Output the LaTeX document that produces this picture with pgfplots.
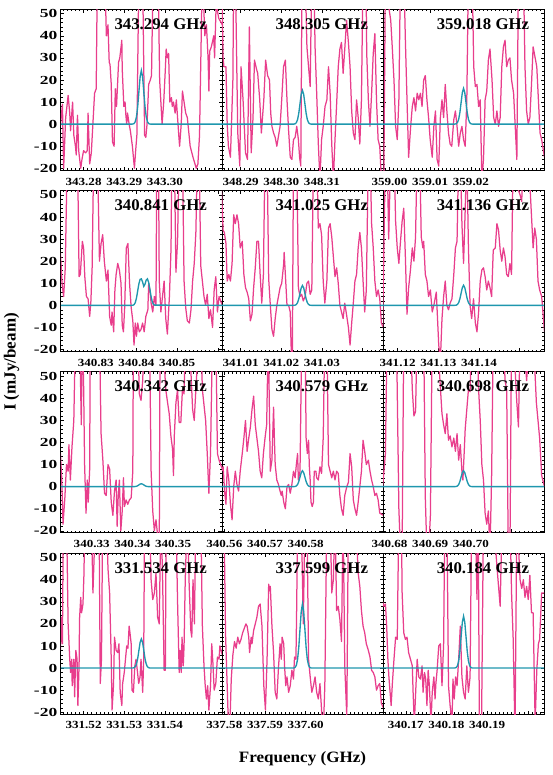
\documentclass[border=0pt]{standalone}
\usepackage{fontspec}
\setmainfont{Liberation Serif}
\usepackage{graphicx}
\usepackage{pgfplots}
\usepackage{pgfplotstable}
\pgfplotsset{compat=1.18}
\definecolor{specPink}{HTML}{E83E8C}
\definecolor{fitTeal}{HTML}{1F97AE}

% x axis of each panel: offset from the line frequency in MHz
\newcommand\xtl[1]{\scalebox{1.2}[1]{#1}}
\newcommand\ptl[1]{\scalebox{1.03}[1]{#1}}

\pgfplotstableread[row sep=\\]{dv I\\
-19.7 -1\\ -19.2 9\\ -18.9 -20\\ -18.4 3\\ -17.8 13\\ -17.4 5\\ -17.2 -3\\ -16.7 10\\ -16.4 -5\\ -16.0 -10\\
-15.8 -14\\ -15.5 4\\ -15.2 -12\\ -14.7 -20\\ -14.4 -16\\ -14.0 -12\\ -13.5 -13\\ -13.1 -12\\ -12.9 5\\ -12.5 -18\\
-12.1 -13\\ -11.3 14\\ -10.9 16\\ -10.6 70\\ -8.8 70\\ -8.4 40\\ -8.0 45\\ -7.7 28\\ -7.5 27\\ -7.2 18\\
-6.9 -8\\ -6.5 -10\\ -6.2 16\\ -5.9 8\\ -5.8 12\\ -5.4 28\\ -5.1 30\\ -4.6 38\\ -4.5 25\\ -4.1 8\\
-3.8 10\\ -3.6 4\\ -3.4 0\\ -3.2 5\\ -2.8 0\\ -2.5 -3\\ -2.0 -10\\ -1.5 -20\\ -1.2 -12\\ -0.9 -5\\
-0.4 70\\ 0.5 70\\ 1.0 -5\\ 1.3 -6\\ 1.6 0\\ 2.0 18\\ 2.4 20\\ 2.7 22\\ 3.1 70\\ 4.3 70\\
4.7 20\\ 5.3 0\\ 5.7 10\\ 6.1 25\\ 6.3 34\\ 6.6 30\\ 6.9 32\\ 7.2 10\\ 7.6 12\\ 7.8 8\\
8.1 10\\ 8.5 5\\ 8.8 11\\ 9.4 -5\\ 9.6 -10\\ 10.0 0\\ 10.3 15\\ 10.7 10\\ 11.1 5\\ 11.5 3\\
12.2 -10\\ 12.9 -15\\ 13.7 -20\\ 14.1 -18\\ 14.5 -5\\ 15.2 70\\ 15.8 40\\ 16.2 45\\ 16.6 30\\ 16.8 15\\
17.0 33\\ 17.4 35\\ 18.0 40\\ 18.2 30\\ 18.6 55\\ 19.2 48\\ 20.1 45\\}\spA

\pgfplotstableread[row sep=\\]{dv I\\
-19.7 70\\ -19.3 30\\ -19.1 26\\ -18.6 26\\ -18.3 0\\ -18.0 -10\\ -17.5 -15\\ -16.9 20\\ -16.7 70\\ -16.3 70\\
-15.7 -4\\ -15.2 -19\\ -14.9 26\\ -14.4 11\\ -13.8 -13\\ -13.3 -16\\ -12.85 44\\ -12.4 -13\\ -11.95 3\\ -11.6 29\\
-11.1 25\\ -10.8 23\\ -10.3 11\\ -9.9 -4\\ -9.3 11\\ -8.85 29\\ -8.36 22\\ -7.9 20\\ -7.6 5\\ -7.3 -1\\
-6.9 -4\\ -6.5 -6\\ -6.1 -10\\ -5.3 -1\\ -4.9 11\\ -4.45 26\\ -4.0 29\\ -3.6 11\\ -3.2 -3\\ -2.8 -15\\
-2.4 -16\\ -2.0 -7\\ -1.6 -6\\ -1.2 -1\\ -0.8 -7\\ -0.5 -15\\ -0.2 -19\\ 0.1 70\\ 0.85 70\\ 1.3 35\\
1.7 26\\ 2.1 17\\ 2.5 70\\ 3.0 70\\ 3.3 35\\ 3.7 14\\ 4.1 -9\\ 4.5 -25\\ 4.9 -7\\ 5.3 -1\\
5.75 8\\ 6.2 11\\ 6.6 26\\ 7.0 14\\ 7.4 -9\\ 7.8 -25\\ 8.2 -7\\ 8.6 9\\ 9.0 26\\ 9.4 34\\
9.8 37\\ 10.2 23\\ 10.6 34\\ 11.05 47\\ 11.5 37\\ 11.9 26\\ 12.3 6\\ 12.7 -4\\ 13.1 -7\\ 13.5 11\\
13.9 3\\ 14.3 -9\\ 14.7 11\\ 15.1 70\\ 15.8 70\\ 16.0 32\\ 16.4 11\\ 16.8 -1\\ 17.2 14\\ 17.6 32\\
18.0 41\\ 18.4 11\\ 18.8 -7\\ 19.2 -10\\ 19.6 -25\\ 20.1 -25\\}\spB

\pgfplotstableread[row sep=\\]{dv I\\
-19.7 -25\\ -19.4 -25\\ -19.0 70\\ -18.6 70\\ -18.1 52\\ -17.7 47\\ -17.3 34\\ -16.9 20\\ -16.5 -1\\ -16.1 -7\\
-15.7 11\\ -15.3 70\\ -14.5 70\\ -14.1 38\\ -13.7 11\\ -13.3 -15\\ -12.8 -1\\ -12.4 8\\ -12.0 12\\ -11.6 6\\
-11.2 14\\ -10.8 11\\ -10.4 14\\ -10.0 8\\ -9.6 20\\ -9.2 22\\ -8.8 11\\ -8.4 3\\ -8.0 -7\\ -7.5 -15\\
-7.1 -1\\ -6.7 6\\ -6.3 -16\\ -5.9 -19\\ -5.5 3\\ -5.1 11\\ -4.7 3\\ -4.3 18\\ -3.9 6\\ -3.5 -4\\
-3.1 -9\\ -2.7 -10\\ -2.2 2\\ -1.8 6\\ -1.4 -1\\ -1.0 -10\\ -0.6 -4\\ -0.2 -1\\ 0.2 -7\\ 0.6 -10\\
1.0 11\\ 1.4 70\\ 2.3 70\\ 2.7 26\\ 3.1 17\\ 3.5 18\\ 3.9 8\\ 4.3 11\\ 4.7 -25\\ 5.1 -16\\
5.5 11\\ 5.9 15\\ 6.3 29\\ 6.7 34\\ 7.2 20\\ 7.6 3\\ 8.0 0\\ 8.4 6\\ 8.8 -1\\ 9.2 3\\
9.6 26\\ 10.0 35\\ 10.4 38\\ 10.8 26\\ 11.2 29\\ 11.6 30\\ 12.0 20\\ 12.5 14\\ 12.9 -1\\ 13.3 -16\\
13.7 70\\ 14.9 70\\ 15.3 26\\ 15.7 6\\ 16.1 0\\ 16.5 3\\ 16.9 18\\ 17.3 35\\ 17.8 30\\ 18.2 26\\
18.6 11\\ 19.0 -4\\ 19.4 -7\\ 20.1 -15\\}\spC

\pgfplotstableread[row sep=\\]{dv I\\
-19.7 24\\ -19.3 10\\ -18.9 4\\ -18.5 17\\ -18.0 70\\ -15.5 70\\ -15.1 13\\ -14.8 14\\ -14.3 29\\ -14.0 26\\
-13.7 13\\ -13.3 4\\ -12.9 3\\ -12.5 -5\\ -12.2 2\\ -11.9 17\\ -11.5 70\\ -10.6 70\\ -10.1 20\\ -9.7 28\\
-9.3 32\\ -8.9 20\\ -8.4 11\\ -8.0 16\\ -7.6 -5\\ -7.2 -9\\ -7.0 -3\\ -6.6 -12\\ -6.3 7\\ -6.0 14\\
-5.6 19\\ -5.2 16\\ -4.8 10\\ -4.5 -9\\ -4.2 -12\\ -3.9 -1\\ -3.5 26\\ -3.1 28\\ -2.7 10\\ -2.3 -1\\
-1.9 -7\\ -1.6 -18\\ -1.3 -8\\ -1.0 -14\\ -0.7 -8\\ -0.3 -12\\ 0.1 -11\\ 0.5 -8\\ 0.9 -12\\ 1.3 -5\\
1.8 -2\\ 2.0 10\\ 2.3 7\\ 2.6 1\\ 3.0 -3\\ 3.4 4\\ 3.8 0\\ 4.0 70\\ 4.4 70\\ 4.6 11\\
5.0 -3\\ 5.4 4\\ 5.8 11\\ 6.2 -6\\ 6.6 -13\\ 7.1 4\\ 7.5 26\\ 7.7 70\\ 8.3 70\\ 8.7 15\\
9.1 29\\ 9.5 70\\ 10.3 70\\ 10.7 11\\ 11.1 -1\\ 11.5 -7\\ 12.0 -8\\ 12.4 -2\\ 12.8 11\\ 13.2 19\\
13.6 33\\ 14.0 70\\ 14.4 70\\ 14.8 18\\ 15.2 11\\ 15.6 4\\ 16.0 0\\ 16.4 5\\ 16.8 -6\\ 17.2 -2\\
17.7 -10\\ 18.1 7\\ 18.5 13\\ 18.9 -3\\ 19.3 4\\ 20.1 0\\}\spD

\pgfplotstableread[row sep=\\]{dv I\\
-19.7 52\\ -19.3 34\\ -19.0 33\\ -18.6 28\\ -18.3 11\\ -17.9 14\\ -17.5 11\\ -17.1 19\\ -16.7 41\\ -16.3 37\\
-15.9 41\\ -15.5 37\\ -15.1 26\\ -14.6 29\\ -14.2 14\\ -13.8 8\\ -13.4 6\\ -13.0 3\\ -12.6 -7\\ -12.2 -4\\
-11.8 8\\ -11.4 17\\ -11.0 29\\ -10.6 29\\ -10.2 14\\ -9.8 1\\ -9.4 14\\ -9.0 70\\ -8.5 70\\ -8.1 12\\
-7.7 0\\ -7.3 -11\\ -6.9 -14\\ -6.5 -6\\ -6.1 0\\ -5.7 4\\ -5.3 8\\ -4.9 10\\ -4.4 19\\ -4.3 24\\
-4.0 14\\ -3.6 0\\ -3.2 0\\ -2.8 -3\\ -2.6 -18\\ -2.3 -30\\ -2.0 70\\ -1.2 70\\ -0.8 8\\ -0.4 4\\
0.0 5\\ 0.4 2\\ 0.85 4\\ 1.3 10\\ 1.7 11\\ 2.1 5\\ 2.5 7\\ 2.9 70\\ 3.7 70\\ 4.1 35\\
4.5 37\\ 4.9 32\\ 5.3 11\\ 5.7 1\\ 6.2 11\\ 6.6 35\\ 7.0 37\\ 7.4 31\\ 7.8 22\\ 8.2 13\\
8.6 17\\ 9.0 10\\ 9.4 0\\ 9.8 -3\\ 10.2 -6\\ 10.6 1\\ 11.1 -5\\ 11.5 -10\\ 11.9 -18\\ 12.3 -8\\
12.7 1\\ 13.1 11\\ 13.5 14\\ 13.9 26\\ 14.3 33\\ 14.7 26\\ 15.1 11\\ 15.5 -3\\ 15.9 7\\ 16.4 70\\
16.8 70\\ 17.2 37\\ 17.6 26\\ 18.0 11\\ 18.4 4\\ 18.8 7\\ 19.2 3\\ 19.6 -8\\ 20.1 -10\\}\spE

\pgfplotstableread[row sep=\\]{dv I\\
-19.7 -10\\ -19.0 70\\ -18.6 70\\ -18.2 30\\ -17.7 70\\ -16.9 70\\ -16.5 38\\ -16.1 26\\ -15.7 19\\ -15.3 29\\
-14.9 38\\ -14.5 44\\ -14.1 22\\ -13.7 -4\\ -13.3 8\\ -12.85 16\\ -12.4 26\\ -12.0 20\\ -11.6 31\\ -11.2 70\\
-10.6 70\\ -10.2 31\\ -9.8 26\\ -9.6 29\\ -9.2 14\\ -8.8 11\\ -8.4 4\\ -7.95 7\\ -7.5 -3\\ -7.1 0\\
-6.7 4\\ -6.5 6\\ -5.9 -18\\ -5.5 -25\\ -5.1 -6\\ -4.7 4\\ -4.3 11\\ -3.9 0\\ -3.5 -2\\ -3.1 1\\
-2.65 3\\ -2.2 14\\ -1.8 26\\ -1.4 29\\ -1.0 70\\ -0.6 70\\ -0.2 37\\ 0.2 19\\ 0.6 43\\ 1.0 70\\
1.4 26\\ 1.8 0\\ 2.2 -6\\ 2.65 3\\ 3.1 -8\\ 3.5 -12\\ 3.9 -3\\ 4.3 11\\ 4.7 16\\ 5.1 17\\
5.5 13\\ 5.9 7\\ 6.3 11\\ 6.7 8\\ 7.1 4\\ 7.5 25\\ 8.0 26\\ 8.4 37\\ 8.8 34\\ 9.2 25\\
9.6 20\\ 10.0 26\\ 10.4 22\\ 10.8 14\\ 11.2 13\\ 11.6 19\\ 12.0 14\\ 12.4 70\\ 13.3 70\\ 13.7 52\\
14.1 50\\ 14.5 47\\ 14.9 70\\ 15.7 70\\ 16.5 55\\ 17.3 26\\ 17.7 35\\ 18.1 30\\ 18.5 11\\ 18.9 7\\
19.4 4\\ 20.1 -12\\}\spF

\pgfplotstableread[row sep=\\]{dv I\\
-19.7 15\\ -19.4 5\\ -19.05 -17\\ -18.6 -5\\ -18.2 10\\ -17.8 7\\ -17.6 19\\ -17.25 3\\ -16.85 18\\ -16.4 30\\
-16.0 70\\ -14.97 70\\ -14.56 28\\ -14.3 70\\ -14.0 47\\ -13.75 10\\ -13.4 -12\\ -13.1 3\\ -12.85 -7\\ -12.5 8\\
-12.36 70\\ -10.1 70\\ -9.7 24\\ -9.26 12\\ -8.85 -3\\ -8.44 -4\\ -8.0 10\\ -7.6 8\\ -7.2 -7\\ -6.8 -13\\
-6.4 -2\\ -6.0 3\\ -5.75 -18\\ -5.5 -5\\ -5.2 3\\ -4.85 -20\\ -4.5 -11\\ -4.2 4\\ -3.96 -9\\ -3.55 -6\\
-3.14 -8\\ -2.73 -6\\ -2.3 -5\\ -1.9 7\\ -1.75 70\\ -0.7 70\\ -0.29 42\\ 0.12 39\\ 0.53 48\\ 0.94 70\\
2.2 70\\ 2.6 7\\ 3.0 -11\\ 3.4 -20\\ 3.8 -15\\ 4.2 -22\\ 4.6 -30\\ 4.8 70\\ 5.4 70\\ 6.2 44\\
6.65 38\\ 7.05 33\\ 7.46 23\\ 7.87 17\\ 8.1 5\\ 8.3 23\\ 8.7 38\\ 9.1 44\\ 9.5 29\\ 9.9 29\\
10.3 44\\ 10.7 42\\ 11.1 70\\ 11.95 70\\ 12.8 35\\ 13.2 30\\ 13.6 44\\ 14.4 70\\ 14.8 70\\ 15.2 44\\
16.0 30\\ 16.4 15\\ 16.8 -3\\ 17.2 15\\ 17.7 70\\ 18.5 70\\ 18.9 15\\ 19.3 12\\ 20.1 8\\}\spG

\pgfplotstableread[row sep=\\]{dv I\\
-19.7 7\\ -19.3 9\\ -18.9 -3\\ -18.6 -8\\ -18.3 9\\ -17.9 3\\ -17.5 -8\\ -17.1 -15\\ -16.7 0\\ -16.3 7\\
-15.9 1\\ -15.5 -2\\ -15.1 7\\ -14.6 15\\ -14.2 22\\ -13.8 30\\ -13.4 16\\ -13.0 22\\ -12.6 27\\ -12.2 35\\
-11.8 41\\ -11.4 28\\ -11.0 22\\ -10.6 16\\ -10.2 7\\ -9.8 4\\ -9.4 15\\ -9.0 22\\ -8.6 28\\ -8.2 70\\
-7.7 7\\ -7.3 12\\ -6.9 36\\ -6.7 22\\ -6.5 10\\ -6.1 3\\ -5.7 1\\ -5.3 -2\\ -5.0 -4\\ -4.8 -2\\
-4.4 -7\\ -4.0 -10\\ -3.6 0\\ -3.2 1\\ -2.8 -3\\ -2.4 1\\ -2.0 7\\ -1.6 4\\ -1.3 10\\ -1.0 15\\
-0.8 3\\ -0.4 7\\ 0.04 70\\ 0.85 70\\ 1.1 22\\ 1.4 15\\ 1.7 21\\ 1.9 9\\ 2.1 3\\ 2.3 -7\\
2.6 -9\\ 2.9 -7\\ 3.1 7\\ 3.5 7\\ 3.7 4\\ 4.1 3\\ 4.5 9\\ 4.9 6\\ 5.3 22\\ 5.7 70\\
6.2 70\\ 6.6 10\\ 7.0 7\\ 7.4 4\\ 7.8 7\\ 8.2 3\\ 8.6 7\\ 9.0 6\\ 9.4 -4\\ 9.8 -10\\
10.2 -13\\ 10.6 -4\\ 11.1 0\\ 11.5 2\\ 11.9 15\\ 12.3 9\\ 12.7 -6\\ 13.1 -10\\ 13.5 -13\\ 13.9 -7\\
14.3 0\\ 14.7 7\\ 15.1 21\\ 15.5 16\\ 15.9 10\\ 16.4 12\\ 16.8 7\\ 17.2 3\\ 17.6 0\\ 18.0 -4\\
18.4 -3\\ 18.8 -6\\ 19.2 -12\\ 20.1 -13\\}\spH

\pgfplotstableread[row sep=\\]{dv I\\
-19.7 0\\ -19.0 15\\ -18.6 70\\ -18.2 70\\ -17.7 70\\ -17.3 55\\ -16.9 70\\ -16.3 70\\ -15.7 -10\\ -15.3 -30\\
-14.9 -30\\ -14.5 70\\ -12.85 70\\ -12.4 44\\ -12.0 32\\ -11.6 34\\ -11.2 70\\ -9.6 70\\ -9.2 -5\\ -8.8 -30\\
-8.4 -30\\ -7.95 -13\\ -7.5 70\\ -6.3 70\\ -5.5 45\\ -5.1 33\\ -4.7 28\\ -4.3 24\\ -3.9 33\\ -3.5 21\\
-3.1 23\\ -2.65 18\\ -2.2 22\\ -1.8 16\\ -1.4 24\\ -1.0 12\\ -0.6 19\\ -0.2 7\\ 0.04 3\\ 0.37 16\\
0.6 26\\ 1.0 35\\ 1.4 44\\ 1.8 43\\ 2.2 70\\ 3.5 70\\ 3.9 44\\ 4.3 30\\ 4.7 10\\ 5.1 3\\
5.5 -12\\ 5.9 -17\\ 6.3 -11\\ 6.7 -30\\ 7.1 5\\ 7.5 70\\ 10.0 70\\ 10.4 48\\ 10.8 44\\ 11.2 -30\\
11.6 -30\\ 12.0 70\\ 12.4 70\\ 13.3 38\\ 13.7 27\\ 14.1 70\\ 14.9 70\\ 15.7 48\\ 16.5 70\\ 17.3 70\\
18.1 38\\ 18.9 22\\ 19.4 5\\ 20.1 0\\}\spI

\pgfplotstableread[row sep=\\]{dv I\\
-19.7 8\\ -19.4 23\\ -19.2 11\\ -18.97 70\\ -18.2 70\\ -17.8 20\\ -17.4 4\\ -17.2 -2\\ -16.9 4\\ -16.8 -8\\
-16.4 4\\ -16.2 -13\\ -15.9 8\\ -15.6 4\\ -15.4 -17\\ -15.1 2\\ -15.0 22\\ -14.7 32\\ -14.5 25\\ -14.15 29\\
-13.9 43\\ -13.7 70\\ -12.1 70\\ -11.7 34\\ -11.05 70\\ -10.2 70\\ -9.9 -7\\ -9.6 4\\ -9.3 70\\ -8.4 70\\
-8.0 45\\ -7.6 34\\ -7.2 4\\ -7.0 -19\\ -6.65 -8\\ -6.4 14\\ -6.0 8\\ -5.6 7\\ -5.3 11\\ -5.0 -11\\
-4.6 -17\\ -4.4 -7\\ -4.0 -2\\ -3.7 4\\ -3.4 10\\ -3.1 9\\ -2.8 19\\ -2.6 16\\ -2.3 11\\ -2.1 -10\\
-1.75 -11\\ -1.4 1\\ -1.1 4\\ -0.8 -1\\ -0.45 -7\\ -0.12 -4\\ 0.12 4\\ 0.37 -5\\ 0.53 -11\\ 0.78 4\\
1.0 70\\ 2.2 70\\ 2.6 40\\ 3.0 31\\ 3.4 34\\ 3.8 43\\ 4.2 23\\ 4.6 20\\ 5.0 70\\ 5.4 43\\
5.8 -1\\ 6.1 -1\\ 6.3 70\\ 8.7 70\\ 9.1 30\\ 9.5 -2\\ 9.75 8\\ 10.0 -2\\ 10.2 14\\ 10.5 1\\
10.7 10\\ 11.0 41\\ 11.5 70\\ 11.95 38\\ 12.36 17\\ 12.6 14\\ 12.9 40\\ 13.25 20\\ 13.6 70\\ 14.8 70\\
15.2 19\\ 15.6 1\\ 15.9 -8\\ 16.2 -14\\ 16.5 -8\\ 16.8 -19\\ 17.2 -8\\ 17.5 11\\ 17.8 2\\ 18.1 -10\\
18.5 -7\\ 18.9 5\\ 19.3 4\\ 19.5 10\\ 20.1 6\\}\spJ

\pgfplotstableread[row sep=\\]{dv I\\
-19.7 52\\ -19.1 70\\ -18.7 15\\ -18.3 -8\\ -18.1 -20\\ -17.7 -30\\ -17.3 -5\\ -16.9 6\\ -16.5 12\\ -16.1 9\\
-15.7 14\\ -15.3 11\\ -14.9 13\\ -14.5 16\\ -14.1 18\\ -13.7 20\\ -13.4 19\\ -13.0 14\\ -12.8 7\\ -12.4 14\\
-12.2 11\\ -11.8 17\\ -11.4 20\\ -11.0 23\\ -10.6 28\\ -10.2 29\\ -9.75 19\\ -9.3 -8\\ -8.9 -19\\ -8.5 4\\
-8.1 38\\ -7.9 35\\ -7.7 37\\ -7.3 19\\ -6.9 7\\ -6.5 -11\\ -6.1 -14\\ -5.7 0\\ -5.3 11\\ -5.0 4\\
-4.8 14\\ -4.4 11\\ -4.2 1\\ -3.9 -8\\ -3.6 -4\\ -3.2 -11\\ -2.8 -8\\ -2.4 -1\\ -2.0 -5\\ -1.75 5\\
-1.4 4\\ -1.2 30\\ -1.0 70\\ -0.1 70\\ 0.4 20\\ 0.85 70\\ 1.3 70\\ 1.7 4\\ 2.1 -4\\ 2.5 -11\\
2.9 -8\\ 3.3 -4\\ 3.7 -11\\ 4.1 -14\\ 4.5 -7\\ 4.9 -19\\ 5.3 -30\\ 5.7 -8\\ 6.2 70\\ 7.0 70\\
7.4 34\\ 7.8 40\\ 8.2 70\\ 8.6 26\\ 9.0 28\\ 9.4 22\\ 9.8 12\\ 10.2 70\\ 10.6 1\\ 11.1 -22\\
11.5 70\\ 12.3 70\\ 13.5 60\\ 13.9 43\\ 14.3 37\\ 14.7 26\\ 15.1 19\\ 15.5 16\\ 15.9 11\\ 16.4 8\\
16.8 5\\ 17.2 -1\\ 17.6 -2\\ 18.0 -4\\ 18.4 -10\\ 18.8 -8\\ 19.2 -7\\ 19.6 -16\\ 20.1 -18\\}\spK

\pgfplotstableread[row sep=\\]{dv I\\
-19.7 30\\ -19.4 28\\ -19.0 29\\ -18.7 19\\ -18.4 4\\ -18.15 -4\\ -17.9 -10\\ -17.6 -17\\ -17.3 -7\\ -16.9 4\\
-16.5 14\\ -16.1 13\\ -15.7 70\\ -15.1 70\\ -14.9 34\\ -14.5 16\\ -14.1 13\\ -13.7 14\\ -13.3 7\\ -12.85 4\\
-12.4 1\\ -12.2 -11\\ -11.9 -25\\ -11.5 -8\\ -11.2 4\\ -10.8 -4\\ -10.4 -5\\ -10.0 1\\ -9.75 -11\\ -9.4 -2\\
-9.1 -5\\ -8.8 -17\\ -8.5 -1\\ -8.2 -8\\ -7.8 -25\\ -7.5 -11\\ -7.1 -4\\ -6.8 -14\\ -6.6 -7\\ -6.3 -1\\
-5.9 10\\ -5.5 11\\ -5.1 -8\\ -4.7 11\\ -4.4 70\\ -3.9 70\\ -3.5 -8\\ -3.1 -17\\ -2.65 -25\\ -2.4 -5\\
-2.1 -14\\ -1.75 -4\\ -1.4 -8\\ -1.0 4\\ -0.6 19\\ -0.2 -4\\ 0.2 -11\\ 0.6 -14\\ 1.0 1\\ 1.4 -11\\
1.8 -4\\ 2.2 70\\ 3.1 70\\ 3.5 31\\ 3.8 70\\ 4.1 -30\\ 4.6 -30\\ 5.1 70\\ 7.5 70\\ 8.4 46\\
9.2 28\\ 9.7 70\\ 11.6 70\\ 12.0 34\\ 12.4 13\\ 12.85 -30\\ 13.3 70\\ 14.1 40\\ 14.5 36\\ 14.9 40\\
15.3 32\\ 15.7 37\\ 16.1 31\\ 16.5 42\\ 16.9 25\\ 17.3 25\\ 17.8 -25\\ 18.2 -1\\ 18.6 11\\ 18.9 13\\
19.4 34\\ 20.1 34\\}\spL

% fitted line profiles, one column per panel
\pgfplotstableread{
dv     a     b     c     d     e    f    g    h    i    j     k     l
-19.7  0     0     0     0     0    0    0    0    0    0     0     0
-2.5   0     0     0     0     0    0    0    0    0    0     0     0
-2.2   0     0     0     0     0    0    0    0    0    0     0     0
-1.9   0.05  0.03  0.04  0.05  0.02 0.02 0    0.02 0.02 0.03  0.06  0.05
-1.6   0.27  0.17  0.18  0.3   0.10 0.10 0.01 0.08 0.08 0.15  0.32  0.26
-1.3   1.07  0.67  0.71  1.2   0.40 0.40 0.06 0.32 0.32 0.58  1.27  1.03
-1.0   3.29  2.07  2.19  3.3   1.22 1.23 0.18 0.97 0.97 1.79  3.92  3.18
-0.7   7.89  4.97  5.26  6.6   2.92 2.95 0.42 2.34 2.34 4.29  9.42  7.63
-0.4   14.74 9.28  9.83  9.8   5.46 5.52 0.79 4.37 4.37 8.01  17.59 14.25
-0.1   21.44 13.50 14.30 11.8  7.94 8.03 1.15 6.35 6.35 11.65 25.59 20.74
0.2    24.3  15.3  16.2  12.0  9.0  9.1  1.3  7.2  7.2  13.2  29.0  23.5
0.5    21.44 13.50 14.30 10.6  7.94 8.03 1.15 6.35 6.35 11.65 25.59 20.74
0.8    14.74 9.28  9.83  8.6   5.46 5.52 0.79 4.37 4.37 8.01  17.59 14.25
1.1    7.89  4.97  5.26  9.6   2.92 2.95 0.42 2.34 2.34 4.29  9.42  7.63
1.4    3.29  2.07  2.19  11.5  1.22 1.23 0.18 0.97 0.97 1.79  3.92  3.18
1.7    1.07  0.67  0.71  12.0  0.40 0.40 0.06 0.32 0.32 0.58  1.27  1.03
2.0    0.27  0.17  0.18  10.4  0.10 0.10 0.01 0.08 0.08 0.15  0.32  0.26
2.3    0.05  0.03  0.04  7.2   0.02 0.02 0    0.02 0.02 0.03  0.06  0.05
2.6    0     0     0     3.9   0    0    0    0    0    0     0     0
2.9    0     0     0     1.5   0    0    0    0    0    0     0     0
3.2    0     0     0     0.4   0    0    0    0    0    0     0     0
3.5    0     0     0     0.1   0    0    0    0    0    0     0     0
20.1   0     0     0     0     0    0    0    0    0    0     0     0
}\model

\pgfplotsset{
  panel/.style={
    scale only axis, width=161.1pt, height=160.8pt, anchor=north west,
    xmin=-19.6, xmax=20, ymin=-20.8, ymax=52,
    ytick={-20,-10,...,50}, minor y tick num=4,
    minor xtick={-19,-18,...,19},
    tick align=inside,
    major tick length=3.4pt, minor tick length=1.7pt,
    every tick/.append style={black, line width=0.45pt},
    axis line style={black, line width=0.8pt},
    /pgf/number format/assume math mode=true,
    yticklabel style={font=\fontsize{12.3}{14}\selectfont\bfseries},
    yticklabel={\scalebox{1.42}[1]{\pgfmathprintnumber{\tick}}},
    xticklabel style={font=\fontsize{10.9}{12}\selectfont\bfseries, yshift=-4.2pt},
  },
  inner/.style={yticklabels={}},
  spec/.style={specPink, line width=1.25pt, line join=round},
  fit/.style={fitTeal, line width=1.35pt},
}
\tikzset{ptitle/.style={anchor=base east, inner sep=0pt,
  font=\fontsize{16.3}{18}\selectfont\bfseries}}

\begin{document}
\begin{tikzpicture}
\path[use as bounding box] (0,0) rectangle (553pt,-775pt);

% row 1
\begin{axis}[panel, at={(60.8pt,-9.3pt)},
  xtick={-14,-4,6,16}, xticklabels={\xtl{343.28},\xtl{343.29},\xtl{343.30},{}}]
\addplot[spec] table[x=dv,y=I]{\spA};
\addplot[fit] table[x=dv,y=a]{\model};
\node[ptitle] at (rel axis cs:0.908,0.876) {\ptl{343.294 GHz}};
\end{axis}
\begin{axis}[panel, inner, at={(221.9pt,-9.3pt)},
  xtick={-15,-5,5,15}, xticklabels={\xtl{348.29},\xtl{348.30},\xtl{348.31},{}}]
\addplot[spec] table[x=dv,y=I]{\spB};
\addplot[fit] table[x=dv,y=b]{\model};
\node[ptitle] at (rel axis cs:0.908,0.876) {\ptl{348.305 GHz}};
\end{axis}
\begin{axis}[panel, inner, at={(383pt,-9.3pt)},
  xtick={-18,-8,2,12}, xticklabels={\xtl{359.00},\xtl{359.01},\xtl{359.02},{}}]
\addplot[spec] table[x=dv,y=I]{\spC};
\addplot[fit] table[x=dv,y=c]{\model};
\node[ptitle] at (rel axis cs:0.908,0.876) {\ptl{359.018 GHz}};
\end{axis}

% row 2
\begin{axis}[panel, at={(60.8pt,-190.5pt)},
  xtick={-11,-1,9,19}, xticklabels={\xtl{340.83},\xtl{340.84},\xtl{340.85},{}}]
\addplot[spec] table[x=dv,y=I]{\spD};
\addplot[fit] table[x=dv,y=d]{\model};
\node[ptitle] at (rel axis cs:0.908,0.876) {\ptl{340.841 GHz}};
\end{axis}
\begin{axis}[panel, inner, at={(221.9pt,-190.5pt)},
  xtick={-15,-5,5,15}, xticklabels={\xtl{341.01},\xtl{341.02},\xtl{341.03},{}}]
\addplot[spec] table[x=dv,y=I]{\spE};
\addplot[fit] table[x=dv,y=e]{\model};
\node[ptitle] at (rel axis cs:0.908,0.876) {\ptl{341.025 GHz}};
\end{axis}
\begin{axis}[panel, inner, at={(383pt,-190.5pt)},
  xtick={-16,-6,4,14}, xticklabels={\xtl{341.12},\xtl{341.13},\xtl{341.14},{}}]
\addplot[spec] table[x=dv,y=I]{\spF};
\addplot[fit] table[x=dv,y=f]{\model};
\node[ptitle] at (rel axis cs:0.908,0.876) {\ptl{341.136 GHz}};
\end{axis}

% row 3
\begin{axis}[panel, at={(60.8pt,-371.8pt)},
  xtick={-12,-2,8,18}, xticklabels={\xtl{340.33},\xtl{340.34},\xtl{340.35},{}}]
\addplot[spec] table[x=dv,y=I]{\spG};
\addplot[fit] table[x=dv,y=g]{\model};
\node[ptitle] at (rel axis cs:0.908,0.876) {\ptl{340.342 GHz}};
\end{axis}
\begin{axis}[panel, inner, at={(221.9pt,-371.8pt)},
  xtick={-19,-9,1,11}, xticklabels={\xtl{340.56},\xtl{340.57},\xtl{340.58},{}}]
\addplot[spec] table[x=dv,y=I]{\spH};
\addplot[fit] table[x=dv,y=h]{\model};
\node[ptitle] at (rel axis cs:0.908,0.876) {\ptl{340.579 GHz}};
\end{axis}
\begin{axis}[panel, inner, at={(383pt,-371.8pt)},
  xtick={-18,-8,2,12}, xticklabels={\xtl{340.68},\xtl{340.69},\xtl{340.70},{}}]
\addplot[spec] table[x=dv,y=I]{\spI};
\addplot[fit] table[x=dv,y=i]{\model};
\node[ptitle] at (rel axis cs:0.908,0.876) {\ptl{340.698 GHz}};
\end{axis}

% row 4
\begin{axis}[panel, at={(60.8pt,-553.2pt)},
  xtick={-14,-4,6,16}, xticklabels={\xtl{331.52},\xtl{331.53},\xtl{331.54},{}}]
\addplot[spec] table[x=dv,y=I]{\spJ};
\addplot[fit] table[x=dv,y=j]{\model};
\node[ptitle] at (rel axis cs:0.908,0.876) {\ptl{331.534 GHz}};
\end{axis}
\begin{axis}[panel, inner, at={(221.9pt,-553.2pt)},
  xtick={-19,-9,1,11}, xticklabels={\xtl{337.58},\xtl{337.59},\xtl{337.60},{}}]
\addplot[spec] table[x=dv,y=I]{\spK};
\addplot[fit] table[x=dv,y=k]{\model};
\node[ptitle] at (rel axis cs:0.908,0.876) {\ptl{337.599 GHz}};
\end{axis}
\begin{axis}[panel, inner, at={(383pt,-553.2pt)},
  xtick={-14,-4,6,16}, xticklabels={\xtl{340.17},\xtl{340.18},\xtl{340.19},{}}]
\addplot[spec] table[x=dv,y=I]{\spL};
\addplot[fit] table[x=dv,y=l]{\model};
\node[ptitle] at (rel axis cs:0.908,0.876) {\ptl{340.184 GHz}};
\end{axis}

\node[rotate=90, anchor=base, font=\fontsize{17}{19}\selectfont\bfseries]
  at (15.5pt,-362pt) {I (mJy/beam)};
\node[anchor=base, font=\fontsize{15.8}{18}\selectfont\bfseries]
  at (302.5pt,-762.3pt) {\scalebox{1.08}[1]{Frequency (GHz)}};
\end{tikzpicture}
\end{document}
